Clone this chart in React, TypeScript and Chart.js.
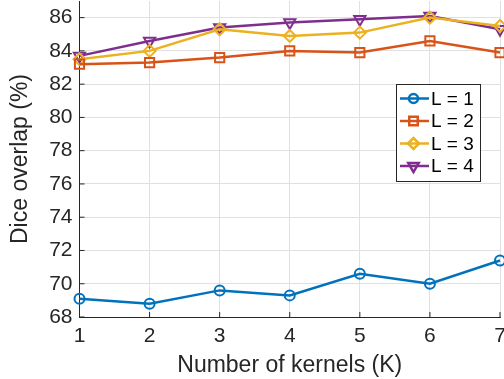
import React, { useEffect, useRef } from 'react';
import { Chart, registerables } from 'chart.js';
import { drawPoint } from 'chart.js/helpers';

Chart.register(...registerables);

const kernels = [1, 2, 3, 4, 5, 6, 7];
const seriesLabels = ['L = 1', 'L = 2', 'L = 3', 'L = 4'];
const l1 = [69.1, 68.8, 69.6, 69.3, 70.6, 70.0, 71.4];
const l2 = [83.2, 83.3, 83.6, 84.0, 83.9, 84.6, 83.9];
const l3 = [83.5, 84.0, 85.3, 84.9, 85.1, 86.0, 85.5];
const l4 = [83.7, 84.6, 85.4, 85.7, 85.9, 86.1, 85.3];
const seriesValues = [l1, l2, l3, l4];
const yMin = 68;
const yMax = 87;
const yStep = 2;
const xTitle = 'Number of kernels (K)';
const yTitle = 'Dice overlap (%)';

const colors = ['#0072BD', '#D95319', '#EDB120', '#7E2F8E'];
const markers = ['circle', 'rect', 'rectRot', 'triangle'];
const rotations = [0, 0, 0, 180];
const radii = [5, 6.5, 6, 6.5];

const FONT = '"Liberation Sans", Arial, Helvetica, sans-serif';
const AXIS = '#262626';

const innerTicks = {
  id: 'innerTicks',
  beforeDatasetsDraw(chart: any) {
    const { ctx, chartArea } = chart;
    const xs = chart.scales.x;
    const ys = chart.scales.y;
    ctx.save();
    ctx.strokeStyle = AXIS;
    ctx.lineWidth = 1;
    ctx.beginPath();
    xs.ticks.forEach((t: any) => {
      const px = xs.getPixelForValue(t.value);
      ctx.moveTo(px, chartArea.bottom);
      ctx.lineTo(px, chartArea.bottom - 5);
    });
    ys.ticks.forEach((t: any) => {
      const py = ys.getPixelForValue(t.value);
      ctx.moveTo(chartArea.left, py);
      ctx.lineTo(chartArea.left + 5, py);
    });
    ctx.stroke();
    ctx.restore();
  },
};

const boxLegend = {
  id: 'boxLegend',
  afterDraw(chart: any) {
    const { ctx, chartArea } = chart;
    const left = chartArea.right - 104;
    const top = chartArea.top + 82.5;
    const w = 84;
    const h = 97;
    ctx.save();
    ctx.fillStyle = '#ffffff';
    ctx.fillRect(left, top, w, h);
    ctx.strokeStyle = '#262626';
    ctx.lineWidth = 1;
    ctx.strokeRect(Math.round(left) + 0.5, Math.round(top) + 0.5, w, h);
    seriesLabels.forEach((lab, i) => {
      const cy = top + 15 + i * 22.5;
      ctx.strokeStyle = colors[i];
      ctx.lineWidth = 2.5;
      ctx.beginPath();
      ctx.moveTo(left + 4, cy);
      ctx.lineTo(left + 33, cy);
      ctx.stroke();
      ctx.fillStyle = 'rgba(0,0,0,0)';
      drawPoint(ctx, { pointStyle: markers[i], rotation: rotations[i], radius: radii[i] - 0.5, borderWidth: 2 } as any, left + 17.5, cy);
      ctx.fillStyle = '#000000';
      ctx.font = `19px ${FONT}`;
      ctx.textBaseline = 'middle';
      ctx.textAlign = 'left';
      ctx.fillText(lab, left + 35, cy + 1);
    });
    ctx.restore();
  },
};

export default function App() {
  const ref = useRef<HTMLCanvasElement | null>(null);
  useEffect(() => {
    document.body.style.margin = '0';
    if (!ref.current) return;
    const yTicks: number[] = [];
    for (let v = yMin; v <= yMax; v += yStep) yTicks.push(v);
    const chart = new Chart(ref.current, {
      type: 'line',
      data: {
        datasets: seriesValues.map((vals, i) => ({
          label: seriesLabels[i],
          data: kernels.map((k, j) => ({ x: k, y: vals[j] })),
          borderColor: colors[i],
          backgroundColor: 'rgba(0,0,0,0)',
          pointBackgroundColor: 'rgba(0,0,0,0)',
          pointBorderColor: colors[i],
          pointStyle: markers[i] as any,
          pointRotation: rotations[i],
          pointRadius: radii[i],
          pointBorderWidth: 2,
          borderWidth: 2.5,
          tension: 0,
          clip: false as any,
        })),
      },
      options: {
        responsive: false,
        animation: false,
        events: [],
        layout: { autoPadding: false, padding: { top: 1, right: 4, left: 0, bottom: 0 } },
        plugins: { legend: { display: false }, tooltip: { enabled: false } },
        scales: {
          x: {
            type: 'linear',
            min: 1,
            max: 7,
            afterFit: (s: any) => { s.height = 62; s.paddingLeft = 0; s.paddingRight = 0; },
            ticks: { stepSize: 1, color: AXIS, font: { family: FONT, size: 21 }, padding: 7, maxRotation: 0 },
            grid: { color: '#e0e0e0', drawTicks: false },
            border: { color: AXIS, width: 1 },
            title: { display: true, text: xTitle, color: AXIS, font: { family: FONT, size: 23 }, padding: { top: 0, bottom: 0 } },
          },
          y: {
            type: 'linear',
            min: yMin,
            max: yMax,
            afterFit: (s: any) => { s.width = 79.5; s.paddingTop = 0; s.paddingBottom = 0; },
            afterBuildTicks: (s: any) => { s.ticks = yTicks.map((v) => ({ value: v })); },
            ticks: { color: AXIS, font: { family: FONT, size: 21 }, padding: 7 },
            grid: { color: '#e0e0e0', drawTicks: false },
            border: { color: AXIS, width: 1 },
            title: { display: true, text: yTitle, color: AXIS, font: { family: FONT, size: 23 }, padding: { top: 7, bottom: 0 } },
          },
        },
      },
      plugins: [innerTicks, boxLegend],
    });
    return () => chart.destroy();
  }, []);
  return <canvas ref={ref} width={504} height={379} style={{ display: 'block' }} />;
}
